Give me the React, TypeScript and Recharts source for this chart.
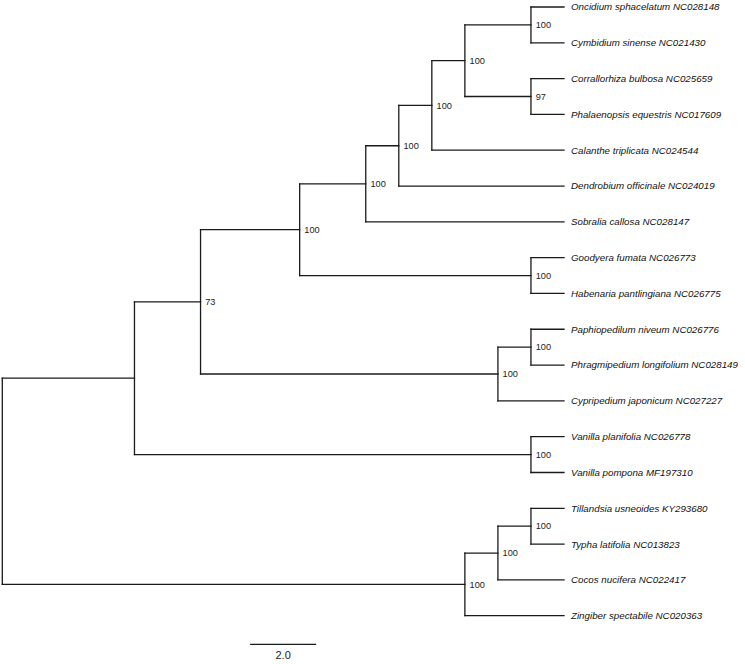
import {
  ComposedChart,
  XAxis,
  YAxis,
  Scatter,
  ReferenceLine,
} from "recharts";

// tip labels, top to bottom (row index = y)
const taxa = [
  "Oncidium sphacelatum NC028148",
  "Cymbidium sinense NC021430",
  "Corrallorhiza bulbosa NC025659",
  "Phalaenopsis equestris NC017609",
  "Calanthe triplicata NC024544",
  "Dendrobium officinale NC024019",
  "Sobralia callosa NC028147",
  "Goodyera fumata NC026773",
  "Habenaria pantlingiana NC026775",
  "Paphiopedilum niveum NC026776",
  "Phragmipedium longifolium NC028149",
  "Cypripedium japonicum NC027227",
  "Vanilla planifolia NC026778",
  "Vanilla pompona MF197310",
  "Tillandsia usneoides KY293680",
  "Typha latifolia NC013823",
  "Cocos nucifera NC022417",
  "Zingiber spectabile NC020363",
];
const tipDepth = 17;

// internal nodes, numbered after the tips (18, 19, ...)
const cladeChildren: [number, number][] = [
  [0, 1],
  [2, 3],
  [18, 19],
  [20, 4],
  [21, 5],
  [22, 6],
  [7, 8],
  [23, 24],
  [9, 10],
  [26, 11],
  [25, 27],
  [12, 13],
  [28, 29],
  [14, 15],
  [31, 16],
  [32, 17],
  [30, 33],
];
const cladeDepth = [16, 16, 14, 13, 12, 11, 16, 9, 16, 15, 6, 16, 4, 16, 15, 14, 0];
const cladeSupport = ["100", "97", "100", "100", "100", "100", "100", "100", "100", "100", "73", "100", "", "100", "100", "100", ""];

const scaleBarStart = 7.5;
const scaleBarLength = 2.0;
const scaleBarRow = 17.8;

type Node = { x: number; y: number; label: string; children?: [number, number] };

const nodes: Node[] = taxa.map((t, i) => ({ x: tipDepth, y: i, label: t }));
cladeChildren.forEach((c, i) => {
  nodes.push({
    x: cladeDepth[i],
    y: (nodes[c[0]].y + nodes[c[1]].y) / 2,
    label: cladeSupport[i],
    children: c,
  });
});
const tips = nodes.slice(0, taxa.length);
const clades = nodes.slice(taxa.length).filter((n) => n.label !== "");

const lineColor = "#1a1a1a";
const font = "Liberation Sans, Arial, sans-serif";

export default function App() {
  const segments: { x1: number; y1: number; x2: number; y2: number }[] = [];
  nodes.forEach((n) => {
    if (!n.children) return;
    const [a, b] = n.children.map((c) => nodes[c]);
    segments.push({ x1: n.x, y1: a.y, x2: n.x, y2: b.y });
    segments.push({ x1: n.x, y1: a.y, x2: a.x, y2: a.y });
    segments.push({ x1: n.x, y1: b.y, x2: b.x, y2: b.y });
  });

  return (
    <div style={{ position: "absolute", left: 0, top: 0, background: "#fff" }}>
      <ComposedChart
        width={745}
        height={664}
        margin={{ top: 7, right: 181, bottom: 48.3, left: 2.3 }}
      >
        <XAxis type="number" dataKey="x" domain={[0, 17]} hide />
        <YAxis type="number" dataKey="y" domain={[0, 17]} reversed hide />
        {segments.map((s, i) => (
          <ReferenceLine
            key={i}
            segment={[
              { x: s.x1, y: s.y1 },
              { x: s.x2, y: s.y2 },
            ]}
            stroke={lineColor}
            strokeWidth={1.3}
            strokeLinecap="square"
            ifOverflow="visible"
          />
        ))}
        <ReferenceLine
          segment={[
            { x: scaleBarStart, y: scaleBarRow },
            { x: scaleBarStart + scaleBarLength, y: scaleBarRow },
          ]}
          stroke={lineColor}
          strokeWidth={1.3}
          ifOverflow="visible"
          label={{
            value: scaleBarLength.toFixed(1),
            position: "bottom",
            offset: 7,
            fill: "#222",
            fontSize: 11,
            fontFamily: font,
          }}
        />
        <Scatter
          data={tips}
          isAnimationActive={false}
          shape={(p: any) => (
            <text
              x={p.cx + 7}
              y={p.cy}
              dy="0.35em"
              fontSize={9.75}
              fontStyle="italic"
              fontFamily={font}
              fill="#111"
            >
              {p.payload.label}
            </text>
          )}
        />
        <Scatter
          data={clades}
          isAnimationActive={false}
          shape={(p: any) => (
            <text
              x={p.cx + 4.7}
              y={p.cy}
              dy="0.35em"
              fontSize={9.2}
              fontFamily={font}
              fill="#222"
            >
              {p.payload.label}
            </text>
          )}
        />
      </ComposedChart>
    </div>
  );
}
